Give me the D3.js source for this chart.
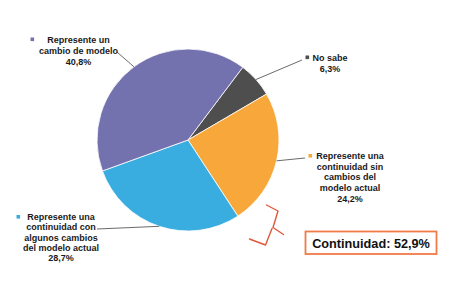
<!DOCTYPE html>
<html>
<head>
<meta charset="utf-8">
<script src="https://cdn.jsdelivr.net/npm/d3@7"></script>
<style>
  html, body { margin: 0; padding: 0; background: #ffffff; }
  svg { display: block; }
</style>
</head>
<body>
<svg id="chart" width="450" height="292"></svg>
<script>
// Survey answers, in the clockwise order the slices are drawn
const categories = [
  "No sabe",
  "Represente una continuidad sin cambios del modelo actual",
  "Represente una continuidad con algunos cambios del modelo actual",
  "Represente un cambio de modelo"
];
const values = [6.3, 24.2, 28.7, 40.8];
const labelLines = [
  ["No sabe"],
  ["Represente una", "continuidad sin", "cambios del", "modelo actual"],
  ["Represente una", "continuidad con", "algunos cambios", "del modelo actual"],
  ["Represente un", "cambio de modelo"]
];
const colors = ["#4e4e4e", "#f8a73a", "#3aade0", "#7472ae"];
const summaryLabel = "Continuidad";
const summaryValue = values[1] + values[2];

const fmt = v => d3.format(".1f")(v).replace(".", ",") + "%";

const svg = d3.select("#chart");
const cx = 188, cy = 140, radius = 91;
const startOffset = 37 * Math.PI / 180;

// Label layout: centre x, first-line centre y, line height, marker and leader end
const layout = [
  { x: 330, y: 57.5, lh: 11, marker: [305.5, 55.5], leaderEnd: [302, 60] },
  { x: 350, y: 156, lh: 10.6, marker: [308.5, 154], leaderEnd: [305, 158] },
  { x: 61, y: 216.5, lh: 10.4, marker: [16.5, 215], leaderEnd: [97, 229] },
  { x: 78.5, y: 39.5, lh: 11.2, marker: [30.5, 37.5], leaderEnd: [117, 52] }
];

const pie = d3.pie()
  .sort(null)
  .value(d => d)
  .startAngle(startOffset)
  .endAngle(startOffset + 2 * Math.PI);
const arcs = pie(values);

const arc = d3.arc().innerRadius(0).outerRadius(radius);
const edge = d3.arc().innerRadius(radius).outerRadius(radius);

const g = svg.append("g").attr("transform", `translate(${cx},${cy})`);
g.selectAll("path.slice")
  .data(arcs)
  .join("path")
  .attr("class", "slice")
  .attr("d", arc)
  .attr("fill", (d, i) => colors[i])
  .attr("stroke", "#ffffff")
  .attr("stroke-width", 0.8);

// Leader lines from each slice's outer edge to its label
arcs.forEach((d, i) => {
  const p = edge.centroid(d);
  const L = layout[i];
  svg.append("line")
    .attr("x1", cx + p[0]).attr("y1", cy + p[1])
    .attr("x2", L.leaderEnd[0]).attr("y2", L.leaderEnd[1])
    .attr("stroke", "#5a5a5a")
    .attr("stroke-width", 0.9);
});

// Labels with a small colour marker
arcs.forEach((d, i) => {
  const L = layout[i];
  const lines = labelLines[i].concat([fmt(values[i])]);
  svg.append("rect")
    .attr("x", L.marker[0]).attr("y", L.marker[1])
    .attr("width", 3.6).attr("height", 3.6)
    .attr("fill", colors[i]);
  const t = svg.append("text")
    .attr("font-family", "'Liberation Sans', Arial, sans-serif")
    .attr("font-weight", "bold")
    .attr("font-size", 9)
    .attr("fill", "#1a1a1a")
    .attr("text-anchor", "middle");
  lines.forEach((s, k) => {
    t.append("tspan")
      .attr("x", L.x)
      .attr("y", L.y + k * L.lh + 3.2)
      .text(s);
  });
});

// Hand-drawn brace grouping the two "continuidad" slices
const brace = [
  [[266.5, 205], [278, 211], [273, 227.5], [283.5, 234.5]],
  [[272, 228.5], [265.5, 245], [249.5, 239]]
];
const line = d3.line();
brace.forEach(pts => {
  svg.append("path")
    .attr("d", line(pts))
    .attr("fill", "none")
    .attr("stroke", "#e0573a")
    .attr("stroke-width", 1.4)
    .attr("stroke-linejoin", "round")
    .attr("stroke-linecap", "round");
});

// Summary box
svg.append("rect")
  .attr("x", 305.5).attr("y", 231.5)
  .attr("width", 131).attr("height", 22.5)
  .attr("fill", "#ffffff")
  .attr("stroke", "#f07b47")
  .attr("stroke-width", 1.8);
svg.append("text")
  .attr("x", 371).attr("y", 247.5)
  .attr("text-anchor", "middle")
  .attr("font-family", "'Liberation Sans', Arial, sans-serif")
  .attr("font-weight", "bold")
  .attr("font-size", 12.7)
  .attr("fill", "#111111")
  .text(`${summaryLabel}: ${fmt(summaryValue)}`);
</script>
</body>
</html>
